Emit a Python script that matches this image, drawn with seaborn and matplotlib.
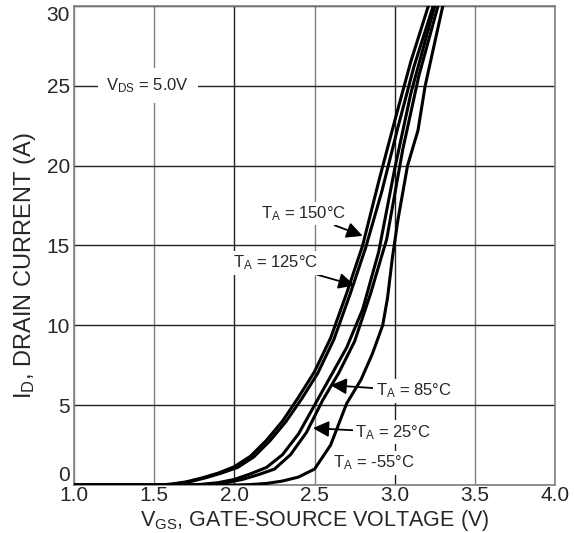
import pandas as pd
import numpy as np
import matplotlib
matplotlib.use('Agg')
import matplotlib.pyplot as plt
import seaborn as sns

# transfer curves, V_GS (V) vs I_D (A)
temps = ['150', '125', '85', '25', '-55']
v_150 = [1.0, 1.5, 1.6, 1.7, 1.8, 1.9, 2.0, 2.1, 2.2, 2.3, 2.4, 2.5, 2.6, 2.7, 2.8, 2.9, 3.0, 3.1, 3.21, 3.3]
i_150 = [0, 0, 0.05, 0.2, 0.45, 0.75, 1.15, 1.8, 2.8, 4.0, 5.5, 7.1, 9.2, 12.0, 15.0, 19.0, 22.8, 26.5, 30.0, 33.0]
v_125 = [1.0, 1.52, 1.62, 1.72, 1.82, 1.92, 2.02, 2.12, 2.22, 2.32, 2.42, 2.52, 2.62, 2.72, 2.82, 2.92, 3.02, 3.12, 3.24, 3.33]
i_125 = [0, 0, 0.05, 0.2, 0.45, 0.75, 1.1, 1.75, 2.75, 3.95, 5.4, 7.0, 9.1, 11.9, 14.9, 18.4, 22.4, 26.2, 30.0, 33.0]
v_85 = [1.0, 1.7, 1.8, 1.9, 2.0, 2.1, 2.2, 2.3, 2.4, 2.5, 2.6, 2.7, 2.8, 2.9, 3.0, 3.1, 3.25, 3.33]
i_85 = [0, 0, 0.05, 0.15, 0.35, 0.7, 1.1, 1.9, 3.2, 5.0, 6.8, 8.6, 11.0, 14.6, 19.8, 24.5, 30.0, 33.0]
v_25 = [1.0, 1.75, 1.85, 1.95, 2.05, 2.15, 2.25, 2.35, 2.45, 2.55, 2.65, 2.75, 2.85, 2.95, 3.05, 3.15, 3.27, 3.35]
i_25 = [0, 0, 0.05, 0.15, 0.35, 0.65, 1.0, 1.9, 3.3, 5.3, 7.0, 9.0, 12.0, 15.4, 21.0, 25.6, 30.0, 33.0]
v_m55 = [1.0, 2.0, 2.1, 2.2, 2.3, 2.4, 2.5, 2.6, 2.7, 2.79, 2.86, 2.925, 2.955, 2.985, 3.02, 3.08, 3.145, 3.19, 3.3, 3.36]
i_m55 = [0, 0, 0.03, 0.1, 0.25, 0.5, 1.0, 2.5, 5.1, 6.6, 8.2, 10.0, 11.7, 14.2, 16.6, 20.0, 22.2, 25.0, 30.0, 33.0]

x_ticks = [1.0, 1.5, 2.0, 2.5, 3.0, 3.5, 4.0]
y_ticks = [0, 5, 10, 15, 20, 25, 30]

curves = {'150': (v_150, i_150), '125': (v_125, i_125), '85': (v_85, i_85),
          '25': (v_25, i_25), '-55': (v_m55, i_m55)}
rows = []
for t in temps:
    vs, cur = curves[t]
    for v, c in zip(vs, cur):
        rows.append({'vgs': v, 'id': c, 'temp': t})
df = pd.DataFrame(rows)

sns.set_style('white')
plt.rcParams['font.family'] = ['Liberation Sans', 'DejaVu Sans']
plt.rcParams['mathtext.fontset'] = 'custom'
plt.rcParams['mathtext.rm'] = 'Liberation Sans'
plt.rcParams['mathtext.it'] = 'Liberation Sans'

fig = plt.figure(figsize=(5.74, 5.33), dpi=100)
ax = fig.add_axes([0.129, 0.09, 0.838, 0.899])

sns.lineplot(data=df, x='vgs', y='id', hue='temp', palette=['black'] * 5,
             estimator=None, sort=False, lw=2.2, legend=False, ax=ax, zorder=3)

ax.set_xlim(1.0, 4.0)
ax.set_ylim(0, 30)
ax.set_xticks(x_ticks)
ax.set_xticklabels([f'{x:.1f}' for x in x_ticks])
ax.set_yticks(y_ticks)
ax.tick_params(length=0, labelsize=15, pad=3)
ax.tick_params(axis='x', pad=1)
ax.get_yticklabels()[-1].set_va('top')
ax.get_yticklabels()[0].set_va('bottom')
ax.grid(True, lw=1.0, color='#222222')
for x, gl in zip(x_ticks, ax.get_xgridlines()):
    gl.set_color('#222222' if x in (2.0, 3.0) else '#808080')
for s in ax.spines.values():
    s.set_color('#808080')
    s.set_linewidth(1.2)

ax.set_xlabel(r'V$_{\rm GS}$, GATE-SOURCE VOLTAGE (V)', fontsize=15.5, labelpad=2)
ax.set_ylabel(r'I$_{\rm D}$, DRAIN CURRENT (A)', fontsize=17)
ax.yaxis.set_label_coords(-0.075, 0.457)

box = dict(boxstyle='square,pad=0.15', fc='white', ec='none')
ax.text(1.46, 25, r'V$_{\rm DS}$ = 5.0V', fontsize=12, ha='center', va='center',
        bbox=dict(boxstyle='square,pad=0.5', fc='white', ec='none'), zorder=4)

arrow = dict(arrowstyle='-|>', color='black', lw=1.3, mutation_scale=24, shrinkA=0, shrinkB=0)
labels = [
    (r'T$_{\rm A}$ = 150°C', (2.43, 17.0), (2.80, 15.6)),
    (r'T$_{\rm A}$ = 125°C', (2.26, 13.9), (2.75, 12.5)),
    (r'T$_{\rm A}$ = 85°C', (3.12, 5.9), (2.60, 6.25)),
    (r'T$_{\rm A}$ = 25°C', (2.99, 3.3), (2.49, 3.56)),
]
for txt, pos, tip in labels:
    ax.annotate(txt, xy=tip, xytext=pos, fontsize=12, ha='center', va='center',
                bbox=box, arrowprops=arrow, zorder=5)
ax.text(2.87, 1.4, r'T$_{\rm A}$ = -55°C', fontsize=12, ha='center', va='center',
        bbox=box, zorder=5)

fig.savefig('out.png', dpi=100)
